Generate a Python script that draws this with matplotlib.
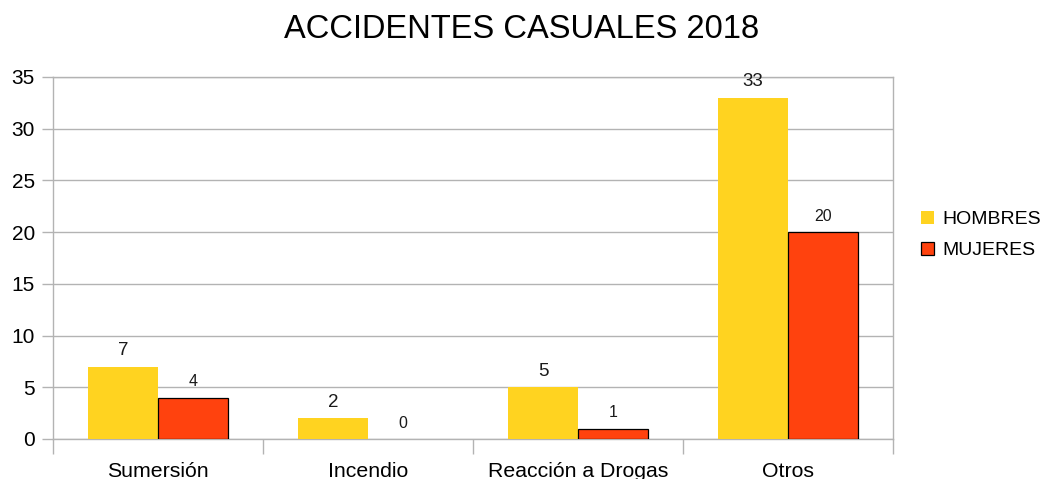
import matplotlib
matplotlib.use("Agg")
import matplotlib.pyplot as plt
import numpy as np
from matplotlib.patches import Patch

plt.rcParams['font.family'] = ['Liberation Sans', 'DejaVu Sans']

categories = ["Sumersión", "Incendio", "Reacción a Drogas", "Otros"]
hombres = [7, 2, 5, 33]
mujeres = [4, 0, 1, 20]
series_names = ["HOMBRES", "MUJERES"]
yticks = [0, 5, 10, 15, 20, 25, 30, 35]

c_h = "#FFD320"
c_m = "#FF420E"
grid_c = "#b3b3b3"

fig = plt.figure(figsize=(10.43, 4.79), dpi=100)
W, H = 1043, 479
ax = fig.add_axes([53 / W, 1 - 439 / H, (893 - 53) / W, (439 - 77) / H])

x = np.arange(len(categories))
bw = 1 / 3
ax.bar(x - bw / 2, hombres, width=bw, color=c_h, edgecolor="none", zorder=3)
m_lw = [0.9 if v > 0 else 0 for v in mujeres]
ax.bar(x + bw / 2, mujeres, width=bw, color=c_m, edgecolor="black", linewidth=m_lw, zorder=3)

for xi, v in zip(x, hombres):
    ax.annotate(str(v), (xi - bw / 2, v), xytext=(0, 11.5), textcoords="offset points",
                ha="center", va="center", fontsize=13.5, color="#1a1a1a")
for xi, v in zip(x, mujeres):
    ax.annotate(str(v), (xi + bw / 2, v), xytext=(0, 11.5), textcoords="offset points",
                ha="center", va="center", fontsize=11.5, color="#1a1a1a")

ax.set_xlim(-0.5, len(categories) - 0.5)
ax.set_ylim(0, 35)
ax.set_yticks(yticks)
ax.set_yticklabels([str(t) for t in yticks], fontsize=15)
ax.yaxis.grid(True, color=grid_c, linewidth=1, zorder=0)
ax.tick_params(axis="y", length=8, color=grid_c, width=1, pad=5)

ax.set_xticks(x)
ax.set_xticklabels(categories, fontsize=15.3)
ax.tick_params(axis="x", which="major", length=0, pad=16.5)
ax.set_xticks(np.arange(-0.5, len(categories), 1.0), minor=True)
ax.tick_params(axis="x", which="minor", length=11, color=grid_c, width=1)

for s in ["left", "right", "bottom", "top"]:
    ax.spines[s].set_color(grid_c)
    ax.spines[s].set_linewidth(1)

fig.suptitle("ACCIDENTES CASUALES 2018", fontsize=23.5, y=1 - 30 / H, va="center", color="black")

handles = [Patch(facecolor=c_h, edgecolor="none"), Patch(facecolor=c_m, edgecolor="black", linewidth=0.9)]
fig.legend(handles, series_names, loc="center left", bbox_to_anchor=(921 / W, 1 - 235 / H),
           frameon=False, fontsize=14, handlelength=0.65, handleheight=0.65, handletextpad=0.45,
           labelspacing=0.7, borderpad=0, borderaxespad=0)

fig.savefig("out.png", dpi=100)
